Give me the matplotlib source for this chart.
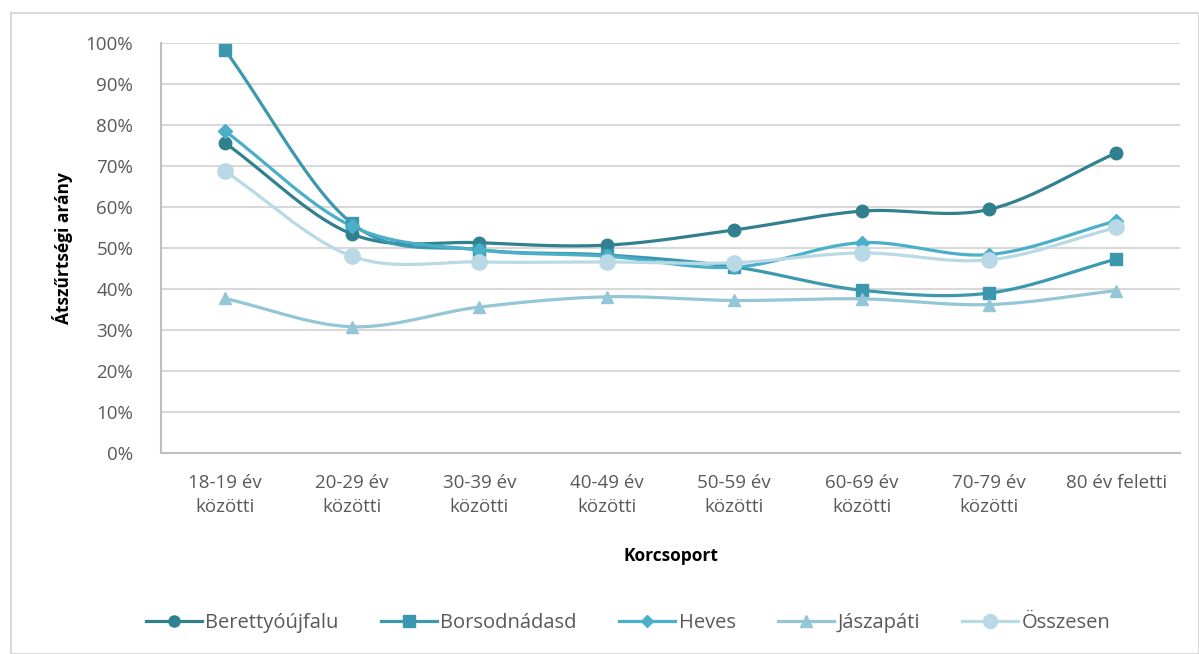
import numpy as np
import matplotlib
matplotlib.use("Agg")
import matplotlib.pyplot as plt
from matplotlib.patches import Rectangle
from matplotlib.ticker import PercentFormatter

# korcsoportok es telepulesek
categories = ["18-19 év\nközötti", "20-29 év\nközötti", "30-39 év\nközötti", "40-49 év\nközötti",
              "50-59 év\nközötti", "60-69 év\nközötti", "70-79 év\nközötti", "80 év feletti"]

berettyoujfalu = [75.7, 53.4, 51.3, 50.7, 54.4, 59.0, 59.4, 73.2]
borsodnadasd = [98.4, 56.0, 49.6, 48.3, 45.4, 39.7, 39.0, 47.3]
heves = [78.6, 55.3, 49.5, 48.0, 45.3, 51.3, 48.4, 56.6]
jaszapati = [37.7, 30.8, 35.6, 38.1, 37.2, 37.6, 36.2, 39.6]
osszesen = [68.8, 48.0, 46.6, 46.6, 46.4, 48.8, 47.1, 55.0]

series = [
    ("Berettyóújfalu", berettyoujfalu, "#31808f", "o", 9),
    ("Borsodnádasd", borsodnadasd, "#3b98ae", "s", 9),
    ("Heves", heves, "#4aafc8", "D", 7),
    ("Jászapáti", jaszapati, "#93c6d7", "^", 9),
    ("Összesen", osszesen, "#b8d9e5", "o", 11),
]


def smooth(x, y, n=30):
    # Catmull-Rom gorbe a pontokon at (excel-szeru simitas)
    x = np.asarray(x, float)
    y = np.asarray(y, float)
    px = np.concatenate([[2 * x[0] - x[1]], x, [2 * x[-1] - x[-2]]])
    py = np.concatenate([[2 * y[0] - y[1]], y, [2 * y[-1] - y[-2]]])
    xs, ys = [], []
    t = np.linspace(0, 1, n)
    for i in range(1, len(px) - 2):
        for p, out in ((px, xs), (py, ys)):
            p0, p1, p2, p3 = p[i - 1], p[i], p[i + 1], p[i + 2]
            out.append(0.5 * ((2 * p1) + (-p0 + p2) * t + (2 * p0 - 5 * p1 + 4 * p2 - p3) * t ** 2
                              + (-p0 + 3 * p1 - 3 * p2 + p3) * t ** 3))
    return np.concatenate(xs), np.concatenate(ys)


plt.rcParams["font.family"] = ["Open Sans", "DejaVu Sans"]
fig = plt.figure(figsize=(11.99, 6.54), dpi=100)
ax = fig.add_axes([161 / 1199, 1 - 453 / 654, (1180 - 161) / 1199, (453 - 43) / 654])

# keret a diagram korul
fig.patches.append(Rectangle((11 / 1199, 0.0), 1188 / 1199, 1 - 13 / 654, transform=fig.transFigure,
                             fill=False, edgecolor="#d9d9d9", linewidth=1.5))

x = np.arange(len(categories))
for name, vals, color, marker, ms in series:
    sx, sy = smooth(x, vals)
    ax.plot(sx, sy, color=color, linewidth=2.3, zorder=3)
    ax.plot(x, vals, linestyle="none", marker=marker, markersize=ms, color=color, zorder=4)
    ax.plot([], [], color=color, linewidth=2.3, marker=marker, markersize=ms - 1, label=name)

ax.set_xlim(-0.5, len(categories) - 0.5)
ax.set_ylim(0, 100)
ax.set_yticks(np.arange(0, 101, 10))
ax.yaxis.set_major_formatter(PercentFormatter(decimals=0))
ax.set_xticks(x)
ax.set_xticklabels(categories, linespacing=1.45)
ax.grid(axis="y", color="#d9d9d9", linewidth=1.5)
ax.set_axisbelow(True)
for s in ["top", "right"]:
    ax.spines[s].set_visible(False)
for s in ["left", "bottom"]:
    ax.spines[s].set_color("#bfbfbf")
    ax.spines[s].set_linewidth(1.5)
ax.tick_params(axis="both", length=0, labelsize=13.5, colors="#595959")
ax.tick_params(axis="y", pad=20)
ax.tick_params(axis="x", pad=15)

ax.set_ylabel("Átszűrtségi arány", fontsize=12.5, fontweight="bold", color="black", labelpad=9)
ax.set_xlabel("Korcsoport", fontsize=12.5, fontweight="bold", color="black", labelpad=22)

fig.legend(loc="center", bbox_to_anchor=(628 / 1199, 1 - 623 / 654), ncol=5, frameon=False,
           fontsize=14.5, handlelength=2.8, handletextpad=0.15, columnspacing=2.1,
           labelcolor="#595959")

fig.savefig("out.png", dpi=100)
